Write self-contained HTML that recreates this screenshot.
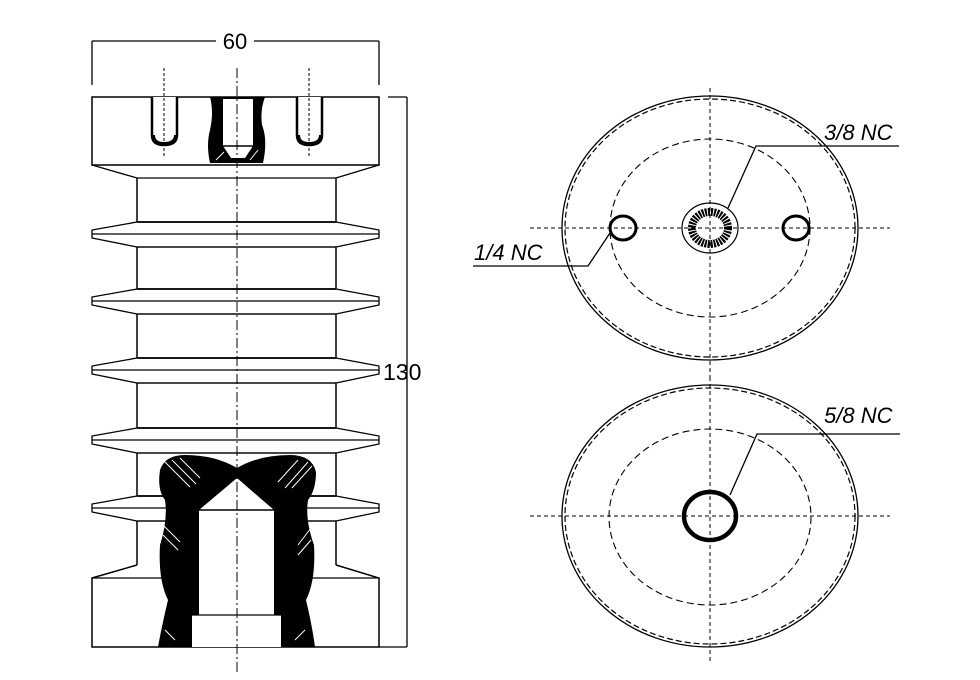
<!DOCTYPE html>
<html><head><meta charset="utf-8"><style>
html,body{margin:0;padding:0;background:#fff;}
svg{display:block;}
text{font-family:"Liberation Sans",sans-serif;}
</style></head><body>
<svg width="980" height="680" viewBox="0 0 980 680" xmlns="http://www.w3.org/2000/svg">
<rect width="980" height="680" fill="#fff"/>
<g stroke="#000" fill="none">
<line x1="92" y1="41" x2="216" y2="41" stroke-width="1.3"/>
<line x1="254" y1="41" x2="379" y2="41" stroke-width="1.3"/>
<line x1="92" y1="41" x2="92" y2="85" stroke-width="1.3"/>
<line x1="379" y1="41" x2="379" y2="85" stroke-width="1.3"/>
<line x1="407" y1="97" x2="407" y2="647" stroke-width="1.3"/>
<line x1="388" y1="97" x2="407" y2="97" stroke-width="1.3"/>
<line x1="379" y1="647" x2="407" y2="647" stroke-width="1.3"/>
<line x1="137" y1="178" x2="137" y2="565" stroke-width="1.5"/>
<line x1="336" y1="178" x2="336" y2="565" stroke-width="1.5"/>
<rect x="92" y="97" width="287" height="68" fill="#fff" stroke-width="1.5"/>
<polyline points="92,165 137,178 336,178 379,165" stroke-width="1.3"/>
<polyline points="137,565 92,578 92,647 379,647 379,578 336,565" fill="#fff" stroke-width="1.5"/>
<line x1="92" y1="578" x2="379" y2="578" stroke-width="1.3"/>
</g>

<g stroke="#000" fill="#fff" stroke-width="1.3">
<g transform="translate(0,234)"><polygon points="137,-12 92,-4 92,4 137,13 336,13 379,4 379,-4 336,-12"/><line x1="137" y1="-12" x2="336" y2="-12" stroke-width="1.8"/><line x1="92" y1="0" x2="379" y2="0"/><line x1="137" y1="13" x2="336" y2="13"/></g>
<g transform="translate(0,301)"><polygon points="137,-12 92,-4 92,4 137,13 336,13 379,4 379,-4 336,-12"/><line x1="137" y1="-12" x2="336" y2="-12" stroke-width="1.8"/><line x1="92" y1="0" x2="379" y2="0"/><line x1="137" y1="13" x2="336" y2="13"/></g>
<g transform="translate(0,370)"><polygon points="137,-12 92,-4 92,4 137,13 336,13 379,4 379,-4 336,-12"/><line x1="137" y1="-12" x2="336" y2="-12" stroke-width="1.8"/><line x1="92" y1="0" x2="379" y2="0"/><line x1="137" y1="13" x2="336" y2="13"/></g>
<g transform="translate(0,440)"><polygon points="137,-12 92,-4 92,4 137,13 336,13 379,4 379,-4 336,-12"/><line x1="137" y1="-12" x2="336" y2="-12" stroke-width="1.8"/><line x1="92" y1="0" x2="379" y2="0"/><line x1="137" y1="13" x2="336" y2="13"/></g>
<g transform="translate(0,508)"><polygon points="137,-12 92,-4 92,4 137,13 336,13 379,4 379,-4 336,-12"/><line x1="137" y1="-12" x2="336" y2="-12" stroke-width="1.8"/><line x1="92" y1="0" x2="379" y2="0"/><line x1="137" y1="13" x2="336" y2="13"/></g>
</g>

<g stroke="#000" fill="#fff">
<path d="M152,97 L152,135 Q152,145 164,145 Q177,145 177,135 L177,97" stroke-width="2.5"/>
<path d="M153,135 Q153,144 164,144 Q176,144 176,135" stroke-width="4"/>
<path d="M297,97 L297,135 Q297,145 309,145 Q322,145 322,135 L322,97" stroke-width="2.5"/>
<path d="M298,135 Q298,144 309,144 Q321,144 321,135" stroke-width="4"/>
</g>
<path d="M210,97 L265,97 Q260,110 262,125 Q268,140 263,163 L210,163 Q206,145 210,130 Q214,112 210,97 Z" fill="#000"/>
<path d="M223,99 L253,99 L253,146 L245,158 L231,158 L223,146 Z" fill="#fff"/>
<line x1="223" y1="146" x2="253" y2="146" stroke="#000" stroke-width="1.5"/>
<g stroke="#fff" stroke-width="1"><line x1="216" y1="160" x2="224" y2="152"/><line x1="250" y1="160" x2="258" y2="150"/></g>

<path d="M160,470 Q165,455 185,455 Q215,455 237,468 Q259,455 290,455 Q312,455 316,472 Q316,490 308,500 Q305,520 314,545 Q316,580 306,600 Q312,625 315,647 L158,647 Q162,625 168,600 Q158,580 160,545 Q168,520 165,500 Q157,490 160,470 Z" fill="#000"/>
<path d="M237,478 L274,510 L274,615 L281,615 L281,647 L192,647 L192,615 L199,615 L199,510 Z" fill="#fff"/>
<line x1="199" y1="510" x2="274" y2="510" stroke="#000" stroke-width="1.5"/>
<line x1="192" y1="615" x2="281" y2="615" stroke="#000" stroke-width="1.2"/>
<g stroke="#fff" stroke-width="1">
<line x1="165" y1="462" x2="190" y2="487"/><line x1="172" y1="460" x2="196" y2="484"/><line x1="180" y1="458" x2="200" y2="478"/>
<line x1="285" y1="488" x2="308" y2="462"/><line x1="292" y1="488" x2="312" y2="466"/><line x1="278" y1="482" x2="298" y2="460"/>
<line x1="163" y1="525" x2="180" y2="542"/><line x1="163" y1="535" x2="178" y2="550"/><line x1="298" y1="545" x2="311" y2="528"/><line x1="298" y1="555" x2="311" y2="540"/>
<line x1="165" y1="630" x2="175" y2="640"/><line x1="295" y1="640" x2="305" y2="630"/>
</g>

<g stroke="#000" stroke-width="1" stroke-dasharray="10,3,2,3" fill="none">
<line x1="237" y1="68" x2="237" y2="672"/>
</g>
<g stroke="#000" stroke-width="1" stroke-dasharray="3,2" fill="none">
<line x1="164" y1="68" x2="164" y2="158"/>
<line x1="309" y1="68" x2="309" y2="158"/>
</g>

<text x="235" y="49" font-size="22" text-anchor="middle" fill="#000">60</text>
<text x="383" y="380" font-size="23" fill="#000">130</text>

<g fill="none" stroke="#000">
<ellipse cx="710" cy="228" rx="148" ry="132" stroke-width="1.3"/>
<ellipse cx="710" cy="228" rx="145" ry="129" stroke-width="1.2" stroke-dasharray="6,3"/>
<ellipse cx="710" cy="228" rx="100" ry="89" stroke-width="1.1" stroke-dasharray="7,4"/>
<line x1="530" y1="228" x2="890" y2="228" stroke-width="1" stroke-dasharray="4,3"/>
<line x1="710" y1="88" x2="710" y2="378" stroke-width="1" stroke-dasharray="4,3"/>
<ellipse cx="623" cy="228" rx="13" ry="12" stroke-width="3"/>
<ellipse cx="796" cy="228" rx="13" ry="12" stroke-width="3"/>
<ellipse cx="710" cy="228" rx="28" ry="25" stroke-width="1.2"/>
<ellipse cx="710" cy="228" rx="18" ry="16" stroke-width="8" stroke-dasharray="2,1"/>
<polyline points="728,208 756,146 899,146" stroke-width="1.3"/>
<polyline points="610,233 588,266 473,266" stroke-width="1.3"/>
</g>
<text x="824" y="140" font-size="22" font-style="italic" fill="#000">3/8 NC</text>
<text x="474" y="260" font-size="22" font-style="italic" fill="#000">1/4 NC</text>

<g fill="none" stroke="#000">
<ellipse cx="710" cy="516" rx="148" ry="131" stroke-width="1.3"/>
<ellipse cx="710" cy="516" rx="145" ry="128" stroke-width="1.2" stroke-dasharray="6,3"/>
<ellipse cx="710" cy="517" rx="101" ry="88" stroke-width="1.1" stroke-dasharray="7,4"/>
<line x1="530" y1="516" x2="890" y2="516" stroke-width="1" stroke-dasharray="4,3"/>
<line x1="710" y1="377" x2="710" y2="662" stroke-width="1" stroke-dasharray="4,3"/>
<ellipse cx="710" cy="516" rx="26" ry="24" stroke-width="4.5"/>
<polyline points="730,495 757,434 900,434" stroke-width="1.3"/>
</g>
<text x="824" y="423" font-size="22" font-style="italic" fill="#000">5/8 NC</text>
</svg>
</body></html>
